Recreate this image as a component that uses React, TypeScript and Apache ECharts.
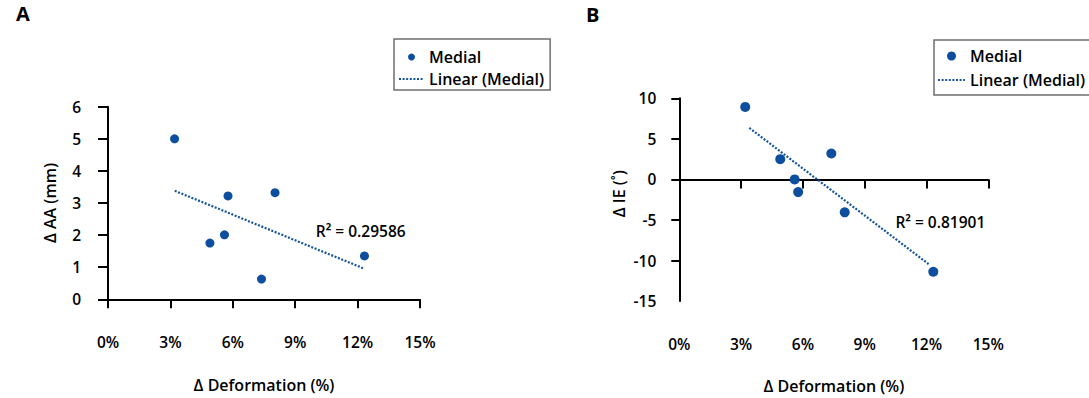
import React, { useEffect, useRef } from "react";
import * as echarts from "echarts";

const deformation = [3.2, 4.9, 5.6, 5.77, 7.38, 8.03, 12.33];
const deltaAA = [5.0, 1.75, 2.01, 3.22, 0.63, 3.32, 1.35];
const deltaIE = [8.94, 2.5, 0.0, -1.56, 3.2, -4.06, -11.38];
const trendXA = [3.21, 12.26];
const trendYA = [3.38, 0.97];
const trendXB = [3.4, 12.1];
const trendYB = [6.35, -10.43];
const r2LabelA = "R² = 0.29586";
const r2LabelB = "R² = 0.81901";
const r2CoordA = [9.99, 2.14];
const r2CoordB = [10.49, -5.22];
const legendNames = ["Medial", "Linear (Medial)"];
const panelLetters = ["A", "B"];

const FONT = "'Open Sans', sans-serif";
const BLUE = "#0E4E9E";
const DOT_BLUE = "#14549F";

export default function App() {
  const ref = useRef<HTMLDivElement>(null);
  useEffect(() => {
    if (!ref.current) return;
    const chart = echarts.init(ref.current, null, { renderer: "svg" });
    const pts = (ys: number[]) => deformation.map((x, i) => [x, ys[i]]);
    const trend = (xs: number[], ys: number[]) => xs.map((x, i) => [x, ys[i]]);
    const axisLine = { show: true, lineStyle: { color: "#000", width: 2 } };
    const labelStyle = { color: "#000", fontSize: 15.5, fontWeight: 600 as any, fontFamily: FONT };
    const nameStyle = { color: "#000", fontSize: 16, fontWeight: 600 as any, fontFamily: FONT };
    const mkTrend = (xs: number[], ys: number[], idx: number, label: string, coord: number[]) => ({
      type: "line",
      name: legendNames[1],
      xAxisIndex: idx,
      yAxisIndex: idx,
      data: trend(xs, ys),
      symbol: "none",
      showSymbol: false,
      lineStyle: { color: DOT_BLUE, width: 2.2, type: [2, 1.6] },
      itemStyle: { color: DOT_BLUE },
      silent: true,
      z: 1,
      markPoint: {
        symbol: "circle",
        symbolSize: 0,
        silent: true,
        label: { show: true, position: "right", distance: 0, formatter: label, ...labelStyle },
        data: [{ coord }],
      },
    });
    const mkLegend = (left: number, top: number, itemHeight: number, itemWidth: number, padding: number[], itemGap: number) => ({
      orient: "vertical",
      left,
      top,
      data: [
        { name: legendNames[0], icon: "circle" },
        { name: legendNames[1], itemStyle: { opacity: 0 } },
      ],
      itemWidth,
      itemHeight,
      itemGap,
      padding,
      borderColor: "#6e6e6e",
      borderWidth: 1.5,
      selectedMode: false,
      textStyle: { color: "#000", fontSize: 16, fontWeight: 600, fontFamily: FONT },
    });
    chart.setOption({
      animation: false,
      textStyle: { fontFamily: FONT },
      title: [
        { text: panelLetters[0], left: 16, top: 3, padding: 0, textStyle: { fontSize: 20, fontWeight: "bold", color: "#000", fontFamily: FONT } },
        { text: panelLetters[1], left: 586, top: 4, padding: 0, textStyle: { fontSize: 20, fontWeight: "bold", color: "#000", fontFamily: FONT } },
      ],
      legend: [
        mkLegend(394, 39, 7, 25, [10, 6, 3, 4], 6),
        mkLegend(934, 40, 9, 27, [8, 10, 7, 3], 8),
      ],
      grid: [
        { left: 108, top: 106.7, width: 312, height: 192.6, outerBoundsMode: "none", containLabel: false },
        { left: 679.3, top: 98.3, width: 309, height: 202.8, outerBoundsMode: "none", containLabel: false },
      ],
      xAxis: [
        {
          gridIndex: 0,
          type: "value",
          min: 0,
          max: 15,
          interval: 3,
          axisLine,
          axisTick: { show: true, length: 9, lineStyle: { color: "#000", width: 2 } },
          splitLine: { show: false },
          axisLabel: { formatter: "{value}%", margin: 35, ...labelStyle },
          name: "Δ Deformation (%)",
          nameLocation: "middle",
          nameGap: 78,
          nameTextStyle: nameStyle,
        },
        {
          gridIndex: 1,
          type: "value",
          min: 0,
          max: 15,
          interval: 3,
          axisLine: { ...axisLine, onZero: true },
          axisTick: { show: true, length: 9, lineStyle: { color: "#000", width: 2 } },
          splitLine: { show: false },
          axisLabel: { formatter: "{value}%", margin: 35, ...labelStyle },
          name: "Δ Deformation (%)",
          nameLocation: "middle",
          nameGap: 77,
          nameTextStyle: nameStyle,
        },
      ],
      yAxis: [
        {
          gridIndex: 0,
          type: "value",
          min: 0,
          max: 6,
          interval: 1,
          axisLine,
          axisTick: { show: true, length: 10, lineStyle: { color: "#000", width: 2 } },
          splitLine: { show: false },
          axisLabel: { margin: 27, ...labelStyle },
          name: "Δ AA (mm)",
          nameLocation: "middle",
          nameGap: 50,
          nameTextStyle: nameStyle,
        },
        {
          gridIndex: 1,
          type: "value",
          min: -15,
          max: 10,
          interval: 5,
          axisLine,
          axisTick: { show: true, length: 8, customValues: [-10, -5, 0, 5, 10], lineStyle: { color: "#000", width: 2 } },
          splitLine: { show: false },
          axisLabel: { margin: 23, ...labelStyle },
          name: "Δ IE (˚)",
          nameLocation: "middle",
          nameGap: 52,
          nameTextStyle: { ...nameStyle, padding: [0, 0, 0, 12] },
        },
      ],
      series: [
        {
          type: "scatter",
          name: legendNames[0],
          xAxisIndex: 0,
          yAxisIndex: 0,
          data: pts(deltaAA),
          symbol: "circle",
          symbolSize: 9,
          itemStyle: { color: BLUE, opacity: 1 },
          z: 3,
        },
        mkTrend(trendXA, trendYA, 0, r2LabelA, r2CoordA),
        {
          type: "scatter",
          name: legendNames[0],
          xAxisIndex: 1,
          yAxisIndex: 1,
          data: pts(deltaIE),
          symbol: "circle",
          symbolSize: 10,
          itemStyle: { color: BLUE, opacity: 1 },
          z: 3,
        },
        mkTrend(trendXB, trendYB, 1, r2LabelB, r2CoordB),
      ],
    });
    return () => chart.dispose();
  }, []);
  return (
    <div
      ref={ref}
      style={{ position: "absolute", left: 0, top: 0, width: 1089, height: 398, background: "#fff" }}
    />
  );
}
